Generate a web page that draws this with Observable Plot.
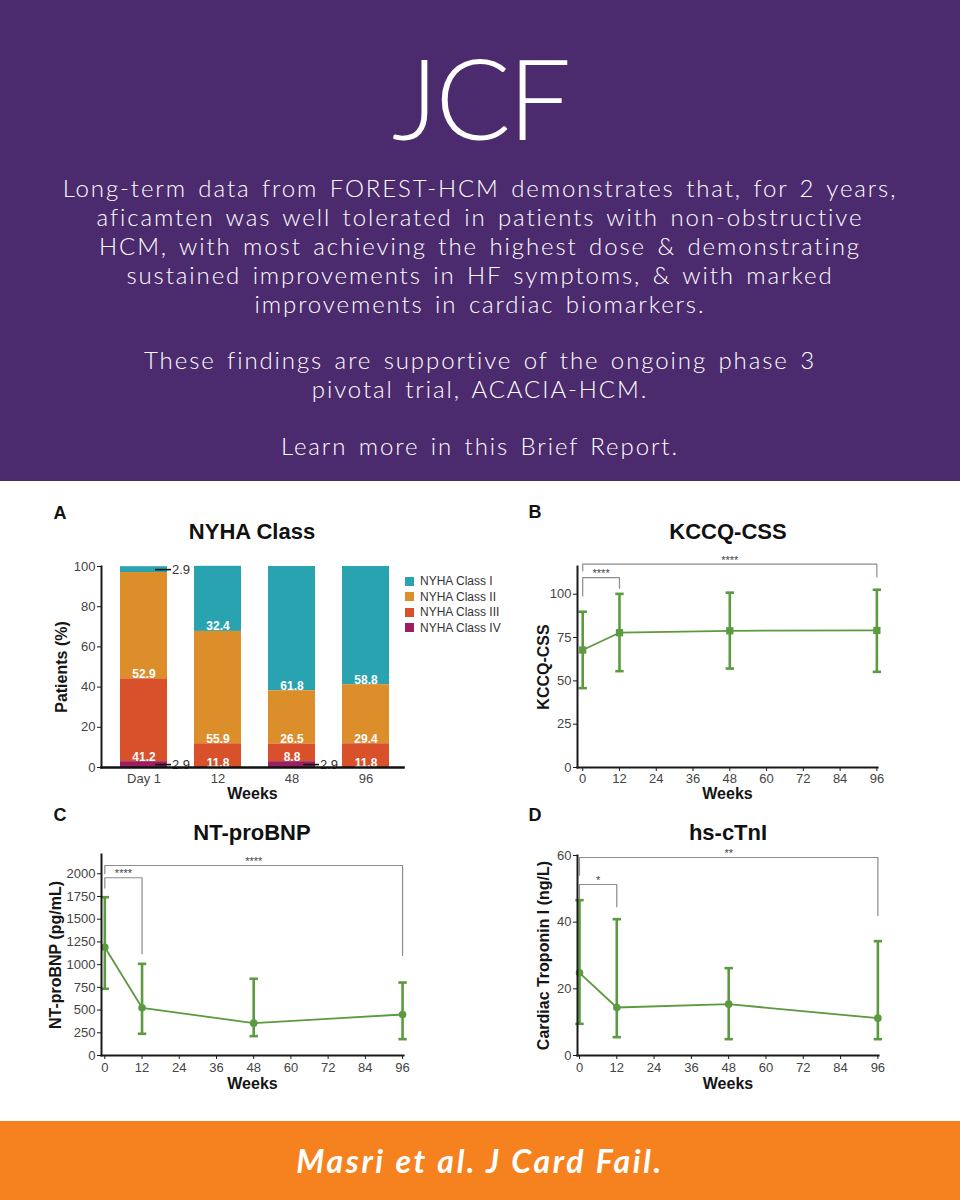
<!DOCTYPE html>
<html>
<head>
<meta charset="utf-8">
<script src="https://cdn.jsdelivr.net/npm/d3@7"></script>
<script src="https://cdn.jsdelivr.net/npm/@observablehq/plot@0.6"></script>
<style>
  html, body { margin: 0; padding: 0; background: #fff; }
  #page { position: relative; width: 960px; height: 1200px; overflow: hidden; background: #fff; font-family: "Liberation Sans", Arial, sans-serif; }
  #header { position: absolute; left: 0; top: 0; width: 960px; height: 481px; background: #4b2b6e; color: #fff; text-align: center; }
  #jcf { position: absolute; left: 0; width: 960px; top: 41px; font-family: Lato, sans-serif; font-weight: 300; font-size: 112px; line-height: 112px; letter-spacing: -3px; }
  .hline { position: absolute; left: 0; width: 960px; height: 29px; font-family: Lato, sans-serif; font-weight: 300; font-size: 24px; line-height: 29px; letter-spacing: 1.9px; word-spacing: 3px; white-space: nowrap; overflow: visible; }
  #footer { position: absolute; left: 0; top: 1121px; width: 960px; height: 79px; background: #f5821f; color: #fff; display: flex; align-items: center; justify-content: center; font-family: Lato, sans-serif; font-weight: 700; font-style: italic; font-size: 32px; letter-spacing: 2.6px; }
  .lbl { position: absolute; transform: translate(-50%, -50%); white-space: nowrap; color: #111; font-weight: bold; }
  .panel { position: absolute; }
  .panel svg { overflow: visible; }
  .panel g[aria-label="y-axis label"] text, .panel g[aria-label="x-axis label"] text { font-weight: bold; font-size: 16px; fill: #151515; }
  .panel g[aria-label="y-axis tick label"], .panel g[aria-label="x-axis tick label"] { fill: #444; }
</style>
</head>
<body>
<div id="page">
  <div id="header">
    <div id="jcf">JCF</div>
  </div>
  <div id="footer">Masri et al. J Card Fail.</div>
</div>
<script>
// ---------------- header text ----------------
const headerLines = [
  ["Long-term data from FOREST-HCM demonstrates that, for 2 years,", 173],
  ["aficamten was well tolerated in patients with non-obstructive", 202],
  ["HCM, with most achieving the highest dose & demonstrating", 231],
  ["sustained improvements in HF symptoms, & with marked", 260],
  ["improvements in cardiac biomarkers.", 289],
  ["These findings are supportive of the ongoing phase 3", 345],
  ["pivotal trial, ACACIA-HCM.", 374],
  ["Learn more in this Brief Report.", 431]
];

// ---------------- data ----------------
const nyhaVisits = ["Day 1", "12", "48", "96"];
const nyhaClasses = ["NYHA Class I", "NYHA Class II", "NYHA Class III", "NYHA Class IV"];
const nyhaColors = ["#2aa3b1", "#dc8e2b", "#d9512a", "#9c1f61"];
const nyhaI   = [2.9, 32.4, 61.8, 58.8];
const nyhaII  = [52.9, 55.9, 26.5, 29.4];
const nyhaIII = [41.2, 11.8, 8.8, 11.8];
const nyhaIV  = [2.9, 0, 2.9, 0];

const weeks = [0, 12, 48, 96];
const weekTicks = [0, 12, 24, 36, 48, 60, 72, 84, 96];

const kccqMean = [67.8, 77.8, 78.9, 79.1];
const kccqLow  = [45.8, 55.6, 57.1, 55.2];
const kccqHigh = [89.9, 100.2, 100.9, 102.6];
const kccqTicks = [0, 25, 50, 75, 100];

const ntMean = [1192, 525, 356, 451];
const ntLow  = [734, 239, 213, 180];
const ntHigh = [1742, 1009, 844, 803];
const ntTicks = [0, 250, 500, 750, 1000, 1250, 1500, 1750, 2000];

const tnMean = [24.8, 14.4, 15.4, 11.2];
const tnLow  = [9.5, 5.5, 4.9, 4.9];
const tnHigh = [46.6, 40.9, 26.2, 34.3];
const tnTicks = [0, 20, 40, 60];

// significance brackets (data units)
const kccqBrackets = [
  {from: 0, to: 12, level: 109.6, leftEnd: 99, rightEnd: 103.3, label: "****"},
  {from: 0, to: 96, level: 117.4, leftEnd: 113.5, rightEnd: 110, label: "****"}
];
const ntBrackets = [
  {from: 0, to: 12, level: 1956, leftEnd: 1842, rightEnd: 1119, label: "****"},
  {from: 0, to: 96, level: 2091, leftEnd: 2000, rightEnd: 1100, label: "****"}
];
const tnBrackets = [
  {from: 0, to: 12, level: 51.3, leftEnd: 46.6, rightEnd: 44.6, label: "*"},
  {from: 0, to: 96, level: 59.4, leftEnd: 54.1, rightEnd: 42, label: "**"}
];

// ---------------- helpers ----------------
const page = document.getElementById("page");
const header = document.getElementById("header");
headerLines.forEach(([t, top]) => {
  const d = document.createElement("div");
  d.className = "hline";
  d.style.top = top + "px";
  d.textContent = t;
  header.appendChild(d);
});

const green = "#5b9a3e";
const plotStyle = {fontFamily: "'Liberation Sans', Arial, sans-serif", fontSize: "13px", color: "#1a1a1a", background: "none", overflow: "visible"};
const fmt = d => String(d);

function addLabel(text, x, y, size) {
  const d = document.createElement("div");
  d.className = "lbl";
  d.textContent = text;
  d.style.left = x + "px";
  d.style.top = y + "px";
  d.style.fontSize = size + "px";
  page.appendChild(d);
}
function place(node, left, top) {
  const d = document.createElement("div");
  d.className = "panel";
  d.style.left = left + "px";
  d.style.top = top + "px";
  d.appendChild(node);
  page.appendChild(d);
}
function keep(opts, pred) {
  const t = opts.transform;
  return {...opts, transform(data, facets, o) {
    const r = t(data, facets, o);
    return {data: r.data, facets: r.facets.map(f => f.filter(i => pred(r.data[i])))};
  }};
}
const capSymbol = {draw(ctx, size) { const r = Math.sqrt(size / Math.PI); ctx.moveTo(-r, 0); ctx.lineTo(r, 0); }};

// ---------------- panel A ----------------
const nyhaSeries = [nyhaI, nyhaII, nyhaIII, nyhaIV];
const nyhaRows = [];
nyhaClasses.forEach((c, k) => nyhaVisits.forEach((v, i) => nyhaRows.push({visit: v, cls: c, value: nyhaSeries[k][i]})));
const stackOpts = {x: "visit", y: "value", z: "cls", order: nyhaClasses.slice().reverse()};
const isSmall = d => d.value > 0 && d.value < 5;

const plotA = Plot.plot({
  width: 370, height: 256, marginLeft: 61, marginRight: 7, marginTop: 16, marginBottom: 39,
  style: plotStyle,
  x: {domain: nyhaVisits, paddingInner: 0.37, paddingOuter: 0.22, align: 0.57},
  y: {domain: [0, 100]},
  color: {domain: nyhaClasses, range: nyhaColors},
  marks: [
    Plot.barY(nyhaRows, Plot.stackY({...stackOpts, fill: "cls"})),
    Plot.text(nyhaRows, keep(Plot.stackY1({...stackOpts, text: d => d.value.toFixed(1), fill: "white", fontWeight: "bold", fontSize: 12, lineAnchor: "bottom", dy: -1}), d => d.value >= 5)),
    Plot.tickY(nyhaRows, keep(Plot.stackY({...stackOpts, stroke: "#111", strokeWidth: 1.6, insetLeft: 35, insetRight: -4}), isSmall)),
    Plot.text(nyhaRows, keep(Plot.stackY({...stackOpts, text: d => d.value.toFixed(1), fill: "#333", fontSize: 13, textAnchor: "start", dx: 28}), isSmall)),
    Plot.frame({anchor: "left", stroke: "#1a1a1a", strokeWidth: 2}),
    Plot.frame({anchor: "bottom", stroke: "#111", strokeWidth: 2.6}),
    Plot.axisY({ticks: [0, 20, 40, 60, 80, 100], tickFormat: fmt, tickSize: 4, tickPadding: 2, fontSize: 13, label: "Patients (%)", labelAnchor: "center", labelOffset: 46, labelArrow: "none"}),
    Plot.axisX({tickSize: 0, tickPadding: 6, fontSize: 13, label: "Weeks", labelAnchor: "center", labelOffset: 31, labelArrow: "none"})
  ]
});
place(plotA, 40, 550);

const legendA = Plot.legend({color: {domain: nyhaClasses, range: nyhaColors}, legend: "swatches", columns: 1, swatchSize: 9,
  style: {fontFamily: "'Liberation Sans', Arial, sans-serif", fontSize: "12px", lineHeight: "14.5px", color: "#333", background: "none"}});
place(legendA, 405, 574);

// ---------------- line panels ----------------
function linePanel(cfg) {
  const data = weeks.map((w, i) => ({week: w, mean: cfg.mean[i], low: cfg.low[i], high: cfg.high[i]}));
  const bpts = cfg.brackets.flatMap((b, j) =>
    [[b.from, b.leftEnd], [b.from, b.level], [b.to, b.level], [b.to, b.rightEnd]].map(([x, y]) => ({id: j, x, y})));
  return Plot.plot({
    width: cfg.width, height: cfg.height,
    marginLeft: cfg.marginLeft, marginRight: cfg.marginRight, marginTop: cfg.marginTop, marginBottom: cfg.marginBottom,
    style: plotStyle,
    x: {domain: cfg.xDomain},
    y: {domain: cfg.yDomain},
    marks: [
      Plot.line(bpts, {x: "x", y: "y", z: "id", stroke: "#8c8c8c", strokeWidth: 1.2}),
      Plot.text(cfg.brackets, {x: d => (d.from + d.to) / 2, y: "level", text: "label", dy: -4, fontSize: 11, fill: "#444"}),
      Plot.ruleX(data, {x: "week", y1: "low", y2: "high", stroke: green, strokeWidth: 2.6}),
      Plot.dot(data, {x: "week", y: "low", symbol: capSymbol, r: 4.2, fill: "none", stroke: green, strokeWidth: 2.6}),
      Plot.dot(data, {x: "week", y: "high", symbol: capSymbol, r: 4.2, fill: "none", stroke: green, strokeWidth: 2.6}),
      Plot.line(data, {x: "week", y: "mean", stroke: green, strokeWidth: 1.8}),
      Plot.dot(data, {x: "week", y: "mean", symbol: cfg.symbol, r: cfg.r, fill: green, stroke: "none"}),
      Plot.frame({anchor: "left", stroke: "#1a1a1a", strokeWidth: 2}),
      Plot.frame({anchor: "bottom", stroke: "#1a1a1a", strokeWidth: 2.2}),
      Plot.axisY({ticks: cfg.yTicks, tickFormat: fmt, tickSize: 4, tickPadding: 2, fontSize: 13, label: cfg.yLabel, labelAnchor: "center", labelOffset: cfg.labelOffsetY, labelArrow: "none"}),
      Plot.axisX({ticks: weekTicks, tickFormat: fmt, tickSize: 4, tickPadding: cfg.tickPadX, fontSize: 13, label: "Weeks", labelAnchor: "center", labelOffset: cfg.labelOffsetX, labelArrow: "none"})
    ]
  });
}

place(linePanel({mean: kccqMean, low: kccqLow, high: kccqHigh, brackets: kccqBrackets,
  xDomain: [-1.7, 96.2], yDomain: [0, 116], yTicks: kccqTicks, yLabel: "KCCQ-CSS", symbol: "square", r: 4.1,
  width: 390, height: 256, marginLeft: 77, marginRight: 13, marginTop: 16, marginBottom: 39,
  labelOffsetY: 40, labelOffsetX: 31, tickPadX: 2}), 500, 550);

place(linePanel({mean: ntMean, low: ntLow, high: ntHigh, brackets: ntBrackets,
  xDomain: [-1.07, 96.3], yDomain: [0, 2212], yTicks: ntTicks, yLabel: "NT-proBNP (pg/mL)", symbol: "circle", r: 3.8,
  width: 375, height: 254, marginLeft: 61, marginRight: 12, marginTop: 14, marginBottom: 39,
  labelOffsetY: 52, labelOffsetX: 33, tickPadX: 3}), 40, 840);

place(linePanel({mean: tnMean, low: tnLow, high: tnHigh, brackets: tnBrackets,
  xDomain: [-0.64, 96.2], yDomain: [0, 60], yTicks: tnTicks, yLabel: "Cardiac Troponin I (ng/L)", symbol: "circle", r: 3.8,
  width: 390, height: 254, marginLeft: 77, marginRight: 12, marginTop: 15, marginBottom: 39,
  labelOffsetY: 40, labelOffsetX: 33, tickPadX: 3}), 500, 840);

// ---------------- panel titles ----------------
addLabel("A", 60, 513, 18);
addLabel("NYHA Class", 252, 532, 22);
addLabel("B", 535, 512, 18);
addLabel("KCCQ-CSS", 728, 532, 22);
addLabel("C", 60, 815, 18);
addLabel("NT-proBNP", 252, 833, 22);
addLabel("D", 535, 815, 18);
addLabel("hs-cTnI", 728, 833, 22);
</script>
</body>
</html>
